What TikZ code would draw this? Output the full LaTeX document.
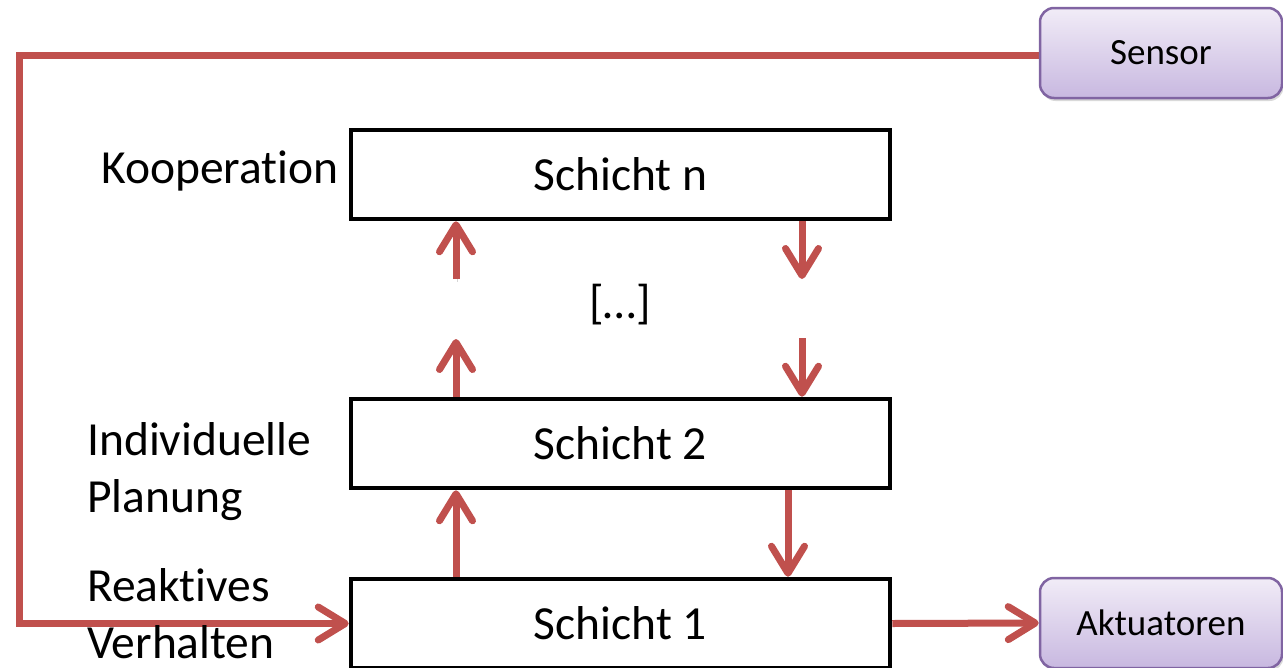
\documentclass[tikz,border=0pt]{standalone}
\usepackage{fontspec}
\setmainfont{Carlito}[RawFeature={-liga;-clig;-calt;-dlig}]
\usetikzlibrary{arrows.meta,calc,shadows}
\pgfdeclarelayer{background}
\pgfsetlayers{background,main}
\definecolor{flowred}{HTML}{C0504D}
\definecolor{ioborder}{HTML}{8064A2}
\definecolor{iotop}{HTML}{F1ECF7}
\definecolor{iobottom}{HTML}{C8B8E0}

\begin{document}
\begin{tikzpicture}[x=1pt,y=-1pt,
  layer/.style={draw=black, line width=4.5pt, fill=white,
    minimum width=539pt, minimum height=89pt, inner sep=0pt,
    font=\fontsize{47.5}{57}\selectfont},
  io/.style={draw=ioborder, line width=2.5pt, rounded corners=14pt,
    top color=iotop, bottom color=iobottom,
    minimum width=242pt, minimum height=90pt, inner sep=0pt,
    font=\fontsize{37}{44}\selectfont,
    drop shadow={shadow xshift=1.5pt, shadow yshift=-3pt, opacity=0.3}},
  sidelabel/.style={anchor=base west, align=left, inner sep=0pt,
    font=\fontsize{47.5}{57}\selectfont},
  flow/.style={draw=flowred, line width=7pt,
    -{Straight Barb[length=27pt,width=33pt,round]},
    preaction={draw=black, opacity=0.16,
      transform canvas={xshift=1.5pt, yshift=-2.5pt}}},
]
\useasboundingbox (0,0) rectangle (1283,667);
\clip (0,0) rectangle (1283,667);

% layer boxes
\node[layer] (sn) at (620.5,174.5) {Schicht n};
\node[layer] (s2) at (620.5,443.5) {Schicht 2};
\node[layer] (s1) at (620.5,623.5) {Schicht 1};

% sensor and actuator boxes
\node[io] (sensor) at (1161,53) {Sensor};
\node[io] (akt) at (1161,623) {Aktuatoren};

% side labels (base anchor sits on the last line)
\node[sidelabel] (koop) at (101,183) {Kooperation};
\node[sidelabel] (plan) at (87,512) {Individuelle\\Planung};
\node[sidelabel] (reakt) at (87,658) {Reaktives\\Verhalten};
\node[font=\fontsize{47.5}{57}\selectfont, inner sep=0pt] (dots) at (620,305) {[…]};

% helper points for the arrow columns
\coordinate (lt) at (19,55);
\coordinate (uX) at (456,0);
\coordinate (dX) at (788,0);
\coordinate (upTop) at (456,279);
\coordinate (upLow) at (456,339);
\coordinate (dnTop) at (802,279);
\coordinate (dnLow) at (802,338);

\begin{pgfonlayer}{background}
  % feedback loop from the sensor into the lowest layer
  \draw[flow] (sensor.west |- lt) -- (lt) |- (s1.west);
  % output to the actuators
  \draw[flow] (s1.east) -- (akt.west);
  % between layer 1 and layer 2
  \draw[flow] (s1.north -| uX) -- (s2.south -| uX);
  \draw[flow] (s2.south -| dX) -- (s1.north -| dX);
  % between layer 2 and layer n
  \draw[flow] (s2.north -| upLow) -- (upLow);
  \draw[flow] (upTop) -- (sn.south -| upTop);
  \draw[flow] (sn.south -| dnTop) -- (dnTop);
  \draw[flow] (dnLow) -- (s2.north -| dnLow);
\end{pgfonlayer}
\end{tikzpicture}
\end{document}
